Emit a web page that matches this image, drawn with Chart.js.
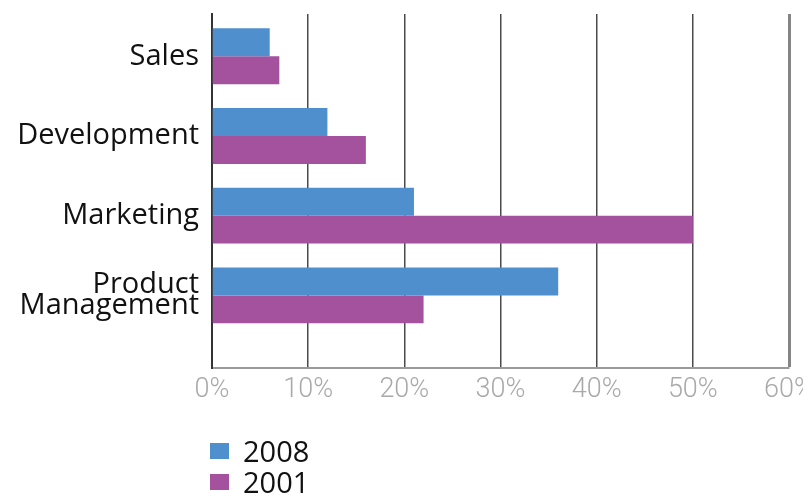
<!DOCTYPE html>
<html>
<head>
<meta charset="utf-8">
<script src="https://cdn.jsdelivr.net/npm/chart.js@4/dist/chart.umd.min.js"></script>
<style>
  html, body { margin: 0; padding: 0; background: #fff; overflow: hidden; }
  #wrap { position: relative; width: 803px; height: 493px; }
  #legend { position: absolute; left: 210px; top: 435px; font-family: 'Open Sans', sans-serif; font-size: 29px; color: #111; }
  #legend .item { display: flex; align-items: center; height: 31px; }
  #legend .box { width: 19px; height: 16px; margin-right: 14px; }
</style>
</head>
<body>
<div id="wrap">
  <canvas id="chart" width="803" height="493"></canvas>
  <div id="legend"></div>
</div>
<script>
// ─── DONNÉES ──────────────────────────────────────────────
const categories = ['Sales', 'Development', 'Marketing', ['Product', 'Management']];
const values2008 = [6, 12, 21, 36];
const values2001 = [7, 16, 50, 22];
const xTicks = [0, 10, 20, 30, 40, 50, 60];

const BLUE = '#4f8fcd';
const PURPLE = '#a5529e';

// index de catégorie -> position sur l'axe y (linéaire, inversé)
const toPoints = vals => vals.map((v, i) => ({ x: v, y: i }));

const ctx = document.getElementById('chart').getContext('2d');

const chart = new Chart(ctx, {
    type: 'bar',
    data: {
        datasets: [
            { label: '2008', data: toPoints(values2008), backgroundColor: BLUE },
            { label: '2001', data: toPoints(values2001), backgroundColor: PURPLE }
        ]
    },
    options: {
        indexAxis: 'y',
        responsive: false,
        animation: false,
        layout: { padding: { top: 14, right: 14, bottom: 0, left: 0 } },
        datasets: { bar: { categoryPercentage: 0.7, barPercentage: 1 } },
        scales: {
            x: {
                type: 'linear',
                min: 0, max: 60,
                afterBuildTicks: s => { s.ticks = xTicks.map(v => ({ value: v })); },
                afterFit: s => { s.height = 125; s.paddingLeft = 0; s.paddingRight = 0; },
                ticks: {
                    callback: v => v + '%',
                    color: '#a9a9a9',
                    padding: 6,
                    font: { family: "Roboto, sans-serif", weight: '300', size: 27 }
                },
                grid: {
                    drawTicks: false,
                    color: c => c.index === 6 ? '#858585' : '#4a4a4a',
                    lineWidth: c => c.index === 6 ? 3 : 1.5
                },
                border: { color: '#9a9a9a', width: 2 }
            },
            y: {
                type: 'linear',
                reverse: true,
                offset: false,
                min: -0.53, max: 3.91,
                afterBuildTicks: s => { s.ticks = categories.map((c, i) => ({ value: i })); },
                afterFit: s => { s.width = 212; s.paddingTop = 0; s.paddingBottom = 0; },
                ticks: {
                    callback: v => categories[v],
                    color: '#111111',
                    padding: 13,
                    font: { family: "'Open Sans', sans-serif", size: 29, lineHeight: 0.74 }
                },
                grid: { display: false, drawTicks: false },
                border: { color: '#333333', width: 2 }
            }
        },
        plugins: {
            legend: { display: false },
            tooltip: { enabled: false }
        }
    }
});

// ─── LÉGENDE HTML ────────────────────────────────────────
const legendEl = document.getElementById('legend');
chart.data.datasets.forEach(ds => {
    const item = document.createElement('div');
    item.className = 'item';
    item.innerHTML = `<span class="box" style="background:${ds.backgroundColor}"></span><span>${ds.label}</span>`;
    legendEl.appendChild(item);
});
</script>
</body>
</html>
